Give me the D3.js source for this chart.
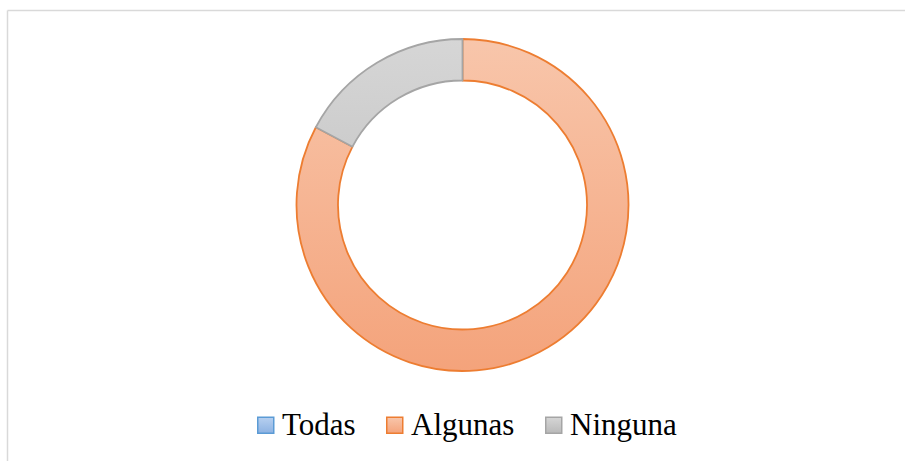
<!DOCTYPE html>
<html>
<head>
<meta charset="utf-8">
<script src="https://cdn.jsdelivr.net/npm/d3@7"></script>
<style>
  body { margin: 0; background: #fff; }
  .legendText { font-family: "Liberation Serif", "Times New Roman", serif; font-size: 31px; fill: #000; }
</style>
</head>
<body>
<svg id="chart" width="906" height="461"></svg>
<script>
// data
var categories = ["Todas", "Algunas", "Ninguna"];
var values = [0, 24, 5];
var strokeColors = ["#5b9bd5", "#ed7d31", "#a5a5a5"];
var gradTop = ["#b7d0f0", "#f8c6ab", "#d6d6d6"];
var gradBottom = ["#8db2e2", "#f4a37b", "#b9b9b9"];

var svg = d3.select("#chart");
var height = 461;
var cx = 462.5, cy = 205, outer_r = 166, inner_r = 124.5;

// border (only top and left visible in the crop)
svg.append("line").attr("x1", 7.5).attr("y1", 10.5).attr("x2", 905).attr("y2", 10.5)
    .attr("stroke", "#d9d9d9").attr("stroke-width", 1.5);
svg.append("line").attr("x1", 7.5).attr("y1", 10.5).attr("x2", 7.5).attr("y2", height)
    .attr("stroke", "#d9d9d9").attr("stroke-width", 1.5);

// gradients: one per box for the legend, one over the whole ring for the slices
var defs = svg.append("defs");
categories.forEach(function(c, i) {
    var g = defs.append("linearGradient")
        .attr("id", "grad" + i)
        .attr("x1", 0).attr("y1", 0).attr("x2", 0).attr("y2", 1);
    g.append("stop").attr("offset", "0%").attr("stop-color", gradTop[i]);
    g.append("stop").attr("offset", "100%").attr("stop-color", gradBottom[i]);
    var gu = defs.append("linearGradient")
        .attr("id", "gradU" + i)
        .attr("gradientUnits", "userSpaceOnUse")
        .attr("x1", 0).attr("y1", -outer_r).attr("x2", 0).attr("y2", outer_r);
    gu.append("stop").attr("offset", "0%").attr("stop-color", gradTop[i]);
    gu.append("stop").attr("offset", "100%").attr("stop-color", gradBottom[i]);
});

var pie = d3.pie().sort(null).value(function(d) { return d; });
var arc = d3.arc().innerRadius(inner_r).outerRadius(outer_r);

var data = pie(values).map(function(p, i) { p.idx = i; return p; })
    .filter(function(p) { return p.value > 0; });

svg.append("g")
    .attr("transform", "translate(" + cx + "," + cy + ")")
    .selectAll(".slice")
    .data(data)
    .enter().append("path")
    .attr("class", "slice")
    .attr("d", arc)
    .attr("fill", function(d) { return "url(#gradU" + d.idx + ")"; })
    .attr("stroke", function(d) { return strokeColors[d.idx]; })
    .attr("stroke-width", 1.8)
    .attr("stroke-linejoin", "round");

// legend
var legendX = [257, 386, 545];
var legend = svg.selectAll(".legend")
    .data(categories)
    .enter().append("g")
    .attr("class", "legend")
    .attr("transform", function(d, i) { return "translate(" + legendX[i] + ",0)"; });

legend.append("rect")
    .attr("x", 0.75).attr("y", 417.25)
    .attr("width", 16).attr("height", 16)
    .attr("fill", function(d, i) { return "url(#grad" + i + ")"; })
    .attr("stroke", function(d, i) { return strokeColors[i]; })
    .attr("stroke-width", 1.5);

legend.append("text")
    .attr("class", "legendText")
    .attr("x", 25)
    .attr("y", 435)
    .text(function(d) { return d; });
</script>
</body>
</html>
